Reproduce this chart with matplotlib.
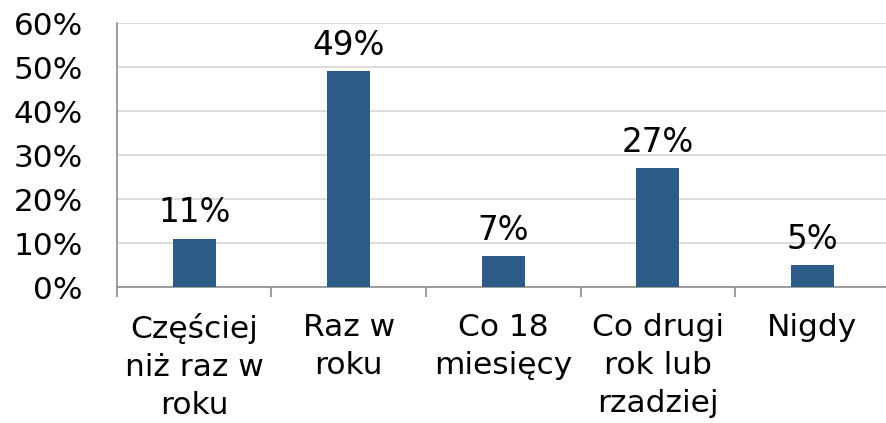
import numpy as np
import matplotlib.pyplot as plt
from matplotlib.ticker import FixedLocator

categories = ["Częściej\nniż raz w\nroku", "Raz w\nroku", "Co 18\nmiesięcy",
              "Co drugi\nrok lub\nrzadziej", "Nigdy"]
values = [11, 49, 7, 27, 5]
y_ticks = [0, 10, 20, 30, 40, 50, 60]

plt.rcParams['font.family'] = ['DejaVu Sans']

fig = plt.figure(figsize=(8.86, 4.23), dpi=100)
ax = fig.add_axes([0.132, 0.3215, 0.872, 0.6241])

x = np.arange(len(categories))
ax.bar(x, values, width=0.28, color="#2B5B86", zorder=3)

# value labels, baseline ~16px above bar top
for xi, v in zip(x, values):
    ax.text(xi, v + 3.7, f"{v}%", ha="center", va="baseline", fontsize=23.5)

ax.set_xlim(-0.5, len(categories) - 0.5)
ax.set_ylim(0, 60)
ax.set_yticks(y_ticks)
ax.set_yticklabels([f"{t}%" for t in y_ticks], fontsize=22.4)
ax.tick_params(axis="y", length=0, pad=24.5)
ax.yaxis.grid(True, color="#D9D9D9", linewidth=1.3, zorder=0)

ax.set_xticks(x)
ax.set_xticklabels(categories, fontsize=22.5, linespacing=1.38)
ax.tick_params(axis="x", which="major", length=0, pad=19)
ax.xaxis.set_minor_locator(FixedLocator(np.arange(-0.5, len(categories), 1.0)))
ax.tick_params(axis="x", which="minor", length=7.5, width=1.2, color="#8C8C8C")

for side in ["top", "right"]:
    ax.spines[side].set_visible(False)
for side in ["left", "bottom"]:
    ax.spines[side].set_color("#8C8C8C")
    ax.spines[side].set_linewidth(1.2)

fig.savefig("out.png", dpi=100)
